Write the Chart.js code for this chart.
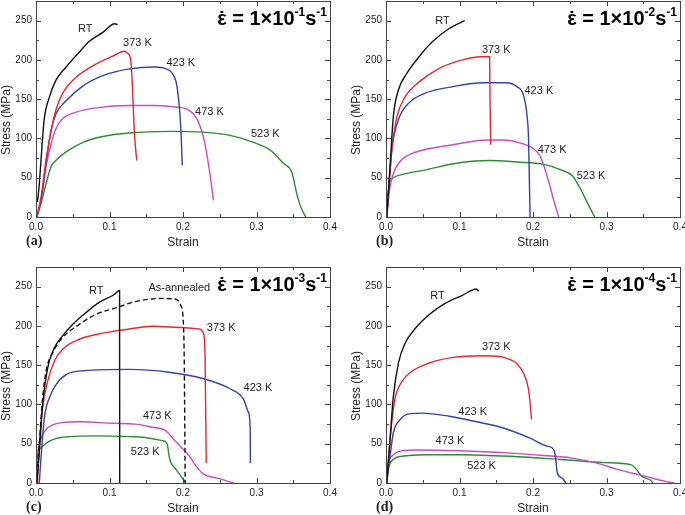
<!DOCTYPE html>
<html lang="en">
<head>
    <meta charset="UTF-8">
    <title>Stress-strain curves</title>
    <script src="https://cdn.jsdelivr.net/npm/chart.js"></script>
    <style>
        body { margin: 0; background: #fff; }
        #wrap { position: relative; width: 685px; height: 515px; }
        .panel { position: absolute; }
    </style>
</head>
<body>
    <div id="wrap">
        <div class="panel" style="left:0;top:0;width:342px;height:257px"><canvas id="pa"></canvas></div>
        <div class="panel" style="left:350px;top:0;width:335px;height:257px"><canvas id="pb"></canvas></div>
        <div class="panel" style="left:0;top:266px;width:342px;height:249px"><canvas id="pc"></canvas></div>
        <div class="panel" style="left:350px;top:266px;width:335px;height:249px"><canvas id="pd"></canvas></div>
    </div>

    <script>
        // axis ticks
        const xTickValues = [0, 0.1, 0.2, 0.3, 0.4];
        const xTickLabels = ['0.0', '0.1', '0.2', '0.3', '0.4'];
        const yTickValues = [0, 50, 100, 150, 200, 250];
        const yTickLabels = ['0', '50', '100', '150', '200', '250'];

        // (a) 1e-1 s-1
        const a_RT_x = [0.002, 0.0045, 0.0068, 0.011, 0.018, 0.027, 0.041, 0.059, 0.073, 0.091, 0.107, 0.111];
        const a_RT_y = [19, 42, 72, 123, 152, 174, 191, 210, 224, 235, 246, 245];
        const a_373_x = [0.001, 0.0068, 0.0136, 0.0205, 0.027, 0.036, 0.0545, 0.082, 0.105, 0.1205, 0.125, 0.129, 0.131, 0.134, 0.137];
        const a_373_y = [0, 25, 72, 110, 136, 157, 178, 195, 205, 211, 208, 199, 169, 106, 72];
        const a_423_x = [0.001, 0.0068, 0.0136, 0.0205, 0.027, 0.041, 0.064, 0.091, 0.127, 0.162, 0.176, 0.186, 0.192, 0.197, 0.199];
        const a_423_y = [0, 21, 68, 110, 131, 148, 167, 180, 188.6, 191, 189, 182, 165, 114, 66];
        const a_473_x = [0.001, 0.0068, 0.0136, 0.0205, 0.027, 0.036, 0.0545, 0.082, 0.127, 0.162, 0.19, 0.208, 0.22, 0.229, 0.236, 0.2415];
        const a_473_y = [0, 21, 64, 93, 112, 125, 133.5, 139, 142, 142, 140, 136, 123, 97, 59, 21];
        const a_523_x = [0.001, 0.0068, 0.0136, 0.0205, 0.027, 0.041, 0.064, 0.091, 0.127, 0.181, 0.227, 0.264, 0.296, 0.319, 0.337, 0.348, 0.356, 0.361, 0.367];
        const a_523_y = [0, 17, 42, 64, 72, 83, 95, 102.5, 107, 109, 108, 104, 95, 85, 68, 57, 25, 11, 0];
        const a_labels = ['RT', '373 K', '423 K', '473 K', '523 K'];
        const a_labelX = [0.067, 0.138, 0.197, 0.236, 0.312];
        const a_labelY = [239, 221, 196, 134, 106];

        // (b) 1e-2 s-1
        const b_RT_x = [0.001, 0.0055, 0.010, 0.017, 0.0285, 0.045, 0.063, 0.086, 0.107];
        const b_RT_y = [0, 64, 128, 162, 183, 204, 223, 240, 250];
        const b_373_x = [0.001, 0.008, 0.015, 0.026, 0.045, 0.072, 0.104, 0.130, 0.141, 0.1415, 0.1425];
        const b_373_y = [0, 86, 128, 153, 172, 189, 200, 204, 204, 150, 92];
        const b_423_x = [0.001, 0.008, 0.017, 0.031, 0.054, 0.091, 0.132, 0.164, 0.178, 0.187, 0.192, 0.194, 0.196];
        const b_423_y = [0, 86, 124, 145, 158, 166, 171, 171, 166, 155, 128, 98, 0];
        const b_473_x = [0.001, 0.0055, 0.012, 0.0215, 0.031, 0.054, 0.091, 0.137, 0.160, 0.183, 0.199, 0.210, 0.222, 0.228, 0.235];
        const b_473_y = [0, 39, 60, 73, 79, 86, 92, 98, 98, 94, 88, 77, 43, 22, 0];
        const b_523_x = [0.001, 0.004, 0.010, 0.0215, 0.054, 0.1, 0.141, 0.178, 0.215, 0.238, 0.254, 0.265, 0.274, 0.284];
        const b_523_y = [0, 39, 50, 54, 60, 69, 72, 70, 67, 60, 52, 35, 18, 0];
        const b_labels = ['RT', '373 K', '423 K', '473 K', '523 K'];
        const b_labelX = [0.077, 0.150, 0.208, 0.226, 0.279];
        const b_labelY = [250, 213, 161, 85, 52];

        // (c) 1e-3 s-1
        const c_RT_x = [0.001, 0.0045, 0.009, 0.016, 0.025, 0.036, 0.05, 0.068, 0.086, 0.105, 0.1137, 0.1139];
        const c_RT_y = [0, 40, 100, 147, 172, 187, 202, 217, 230, 239, 245, 0];
        const c_ann_x = [0.001, 0.0045, 0.009, 0.0136, 0.0227, 0.036, 0.059, 0.082, 0.109, 0.135, 0.172, 0.19, 0.197, 0.2, 0.2016, 0.203];
        const c_ann_y = [0, 49, 108, 142, 166, 185, 202, 215, 223, 231, 235, 234, 226, 211, 162, 0];
        const c_373_x = [0.002, 0.0045, 0.009, 0.016, 0.025, 0.036, 0.059, 0.082, 0.105, 0.127, 0.158, 0.199, 0.222, 0.228, 0.230, 0.2316];
        const c_373_y = [0, 49, 96, 130, 155, 170, 183, 189, 193, 196, 199.5, 198, 196, 190, 162, 25];
        const c_423_x = [0.0045, 0.0068, 0.0114, 0.018, 0.027, 0.041, 0.064, 0.127, 0.181, 0.227, 0.264, 0.282, 0.289, 0.2914, 0.2917];
        const c_423_y = [0, 32, 83, 108, 125, 138, 143, 144.6, 141, 133, 120, 107, 90, 69, 25];
        const c_473_x = [0.001, 0.002, 0.0068, 0.0136, 0.0227, 0.036, 0.059, 0.105, 0.135, 0.158, 0.176, 0.185, 0.195, 0.208, 0.2175, 0.227, 0.25, 0.2685];
        const c_473_y = [0, 32, 57, 68, 74, 77, 78, 76, 75, 71, 67, 58, 48, 35, 22, 12, 5.5, 0];
        const c_523_x = [0.001, 0.002, 0.0068, 0.016, 0.027, 0.045, 0.082, 0.127, 0.1486, 0.1716, 0.1785, 0.181, 0.183, 0.19, 0.2016, 0.204];
        const c_523_y = [0, 32, 45, 52, 56.5, 59, 60, 59, 58, 54, 50, 35, 27, 18, 3, 0];
        const c_labels = ['RT', 'As-annealed', '373 K', '423 K', '473 K', '523 K'];
        const c_labelX = [0.082, 0.195, 0.252, 0.302, 0.165, 0.1486];
        const c_labelY = [245, 248, 197, 121, 85, 40];

        // (d) 1e-4 s-1
        const d_RT_x = [0.001, 0.0055, 0.010, 0.017, 0.026, 0.040, 0.058, 0.081, 0.104, 0.123, 0.126];
        const d_RT_y = [0, 55, 110, 153, 178, 197, 214, 229, 239, 247, 244];
        const d_373_x = [0.001, 0.0055, 0.012, 0.0216, 0.035, 0.058, 0.091, 0.132, 0.155, 0.169, 0.178, 0.187, 0.194, 0.196, 0.198];
        const d_373_y = [0, 55, 106, 129, 142, 152.5, 160, 162, 161, 157, 152, 140, 119, 102, 81];
        const d_423_x = [0.001, 0.0055, 0.010, 0.019, 0.031, 0.049, 0.086, 0.123, 0.16, 0.196, 0.219, 0.2285, 0.231, 0.233, 0.24, 0.2446];
        const d_423_y = [0, 34, 64, 80.5, 88, 89, 85, 78, 70, 57, 47, 42, 30, 13, 6, 0];
        const d_473_x = [0.001, 0.003, 0.008, 0.017, 0.04, 0.1, 0.169, 0.215, 0.2515, 0.288, 0.316, 0.353, 0.38, 0.392];
        const d_473_y = [0, 25, 34, 40, 42, 41, 38, 35, 32, 25, 17, 8.5, 2, 0];
        const d_523_x = [0.001, 0.003, 0.010, 0.0216, 0.054, 0.1, 0.169, 0.238, 0.2975, 0.334, 0.341, 0.348, 0.36, 0.363];
        const d_523_y = [0, 17, 30, 34, 36, 36, 34, 30, 26, 23, 17, 8.5, 3.4, 0];
        const d_labels = ['RT', '373 K', '423 K', '473 K', '523 K'];
        const d_labelX = [0.070, 0.150, 0.118, 0.087, 0.130];
        const d_labelY = [238, 173, 91, 54, 22];

        const COLORS = {
            RT: '#111111',
            K373: '#e8262e',
            K423: '#3341b3',
            K473: '#c94bc2',
            K523: '#2e8b32'
        };

        function pts(xs, ys) {
            return xs.map((x, i) => ({ x: x, y: ys[i] }));
        }

        function ds(xs, ys, color, dash) {
            return {
                data: pts(xs, ys),
                borderColor: color,
                borderWidth: 1.4,
                borderDash: dash || [],
                pointRadius: 0,
                cubicInterpolationMode: 'monotone',
                fill: false
            };
        }

        // draws frame, inward ticks, tick labels, titles and text annotations
        const framePlugin = {
            id: 'frame',
            afterDraw(chart) {
                const c = chart.ctx;
                const ca = chart.chartArea;
                const xs = chart.scales.x, ys = chart.scales.y;
                const o = chart.options.plugins.frame;
                c.save();

                c.strokeStyle = '#444';
                c.lineWidth = 1;
                c.strokeRect(ca.left + 0.5, ca.top + 0.5, ca.right - ca.left, ca.bottom - ca.top);

                c.beginPath();
                for (let v = 0; v <= 0.4001; v += 0.05) {
                    const px = Math.round(xs.getPixelForValue(v)) + 0.5;
                    const len = (Math.round(v * 100) % 10 === 0) ? 5 : 3;
                    c.moveTo(px, ca.bottom); c.lineTo(px, ca.bottom - len);
                    c.moveTo(px, ca.top); c.lineTo(px, ca.top + len);
                }
                for (let v = 0; v <= 275; v += 25) {
                    const py = Math.round(ys.getPixelForValue(v)) + 0.5;
                    const len = (v % 50 === 0) ? 5 : 3;
                    c.moveTo(ca.left, py); c.lineTo(ca.left + len, py);
                    c.moveTo(ca.right, py); c.lineTo(ca.right - len, py);
                }
                c.stroke();

                c.fillStyle = '#222';
                c.font = '10px "Liberation Sans", Arial, sans-serif';
                c.textAlign = 'center';
                c.textBaseline = 'top';
                xTickValues.forEach((v, i) => c.fillText(xTickLabels[i], xs.getPixelForValue(v), ca.bottom + 5));
                c.textAlign = 'right';
                c.textBaseline = 'middle';
                yTickValues.forEach((v, i) => c.fillText(yTickLabels[i], ca.left - 4, ys.getPixelForValue(v)));

                c.font = '12px "Liberation Sans", Arial, sans-serif';
                c.textAlign = 'center';
                c.textBaseline = 'middle';
                c.fillText('Strain', (ca.left + ca.right) / 2, ca.bottom + 26);
                c.save();
                c.translate(7, (ca.top + ca.bottom) / 2 + 11);
                c.rotate(-Math.PI / 2);
                c.fillText('Stress (MPa)', 0, 0);
                c.restore();

                c.font = 'bold 14px "Liberation Serif", "Times New Roman", serif';
                c.textAlign = 'left';
                c.fillText(o.tag, 26, ca.bottom + 24);

                // curve labels
                c.font = '11px "Liberation Sans", Arial, sans-serif';
                c.textAlign = 'center';
                c.fillStyle = '#222';
                o.labels.forEach((t, i) => {
                    c.fillText(t, xs.getPixelForValue(o.labelX[i]), ys.getPixelForValue(o.labelY[i]));
                });

                // strain rate title: epsilon-dot = 1x10^n s^-1
                const big = 'bold 20px "Liberation Sans", Arial, sans-serif';
                const small = 'bold 12px "Liberation Sans", Arial, sans-serif';
                const parts = [
                    ['\u03B5', big, 0],
                    [' = ', big, 0],
                    ['1\u00D710', big, 0],
                    [o.exp, small, 9],
                    ['s', big, 0],
                    ['-1', small, 9]
                ];
                let total = 0;
                parts.forEach(p => { c.font = p[1]; total += c.measureText(p[0]).width; });
                let x = ca.right - 3 - total;
                const base = ca.top + 24;
                c.textAlign = 'left';
                c.textBaseline = 'alphabetic';
                c.fillStyle = '#000';
                parts.forEach((p, i) => {
                    c.font = p[1];
                    const w = c.measureText(p[0]).width;
                    c.fillText(p[0], x, base - p[2]);
                    if (i === 0) {
                        c.textAlign = 'center';
                        c.fillText('\u02D9', x + w / 2, base + 1);
                        c.textAlign = 'left';
                    }
                    x += w;
                });

                c.restore();
            }
        };

        function makePanel(id, w, h, datasets, tag, exp, labels, labelX, labelY) {
            const canvas = document.getElementById(id);
            return new Chart(canvas.getContext('2d'), {
                type: 'line',
                data: { datasets: datasets },
                options: {
                    responsive: true,
                    maintainAspectRatio: false,
                    animation: false,
                    layout: { padding: { left: 36, top: 1, right: w - 330, bottom: h - 217 } },
                    scales: {
                        x: { type: 'linear', min: 0, max: 0.4, display: false },
                        y: { type: 'linear', min: 0, max: 275, display: false }
                    },
                    plugins: {
                        legend: { display: false },
                        tooltip: { enabled: false },
                        frame: { tag: tag, exp: exp, labels: labels, labelX: labelX, labelY: labelY }
                    }
                },
                plugins: [framePlugin]
            });
        }

        makePanel('pa', 342, 257, [
            ds(a_RT_x, a_RT_y, COLORS.RT),
            ds(a_373_x, a_373_y, COLORS.K373),
            ds(a_423_x, a_423_y, COLORS.K423),
            ds(a_473_x, a_473_y, COLORS.K473),
            ds(a_523_x, a_523_y, COLORS.K523)
        ], '(a)', '-1', a_labels, a_labelX, a_labelY);

        makePanel('pb', 335, 257, [
            ds(b_RT_x, b_RT_y, COLORS.RT),
            ds(b_373_x, b_373_y, COLORS.K373),
            ds(b_423_x, b_423_y, COLORS.K423),
            ds(b_473_x, b_473_y, COLORS.K473),
            ds(b_523_x, b_523_y, COLORS.K523)
        ], '(b)', '-2', b_labels, b_labelX, b_labelY);

        makePanel('pc', 342, 249, [
            ds(c_RT_x, c_RT_y, COLORS.RT),
            ds(c_ann_x, c_ann_y, COLORS.RT, [5, 3]),
            ds(c_373_x, c_373_y, COLORS.K373),
            ds(c_423_x, c_423_y, COLORS.K423),
            ds(c_473_x, c_473_y, COLORS.K473),
            ds(c_523_x, c_523_y, COLORS.K523)
        ], '(c)', '-3', c_labels, c_labelX, c_labelY);

        makePanel('pd', 335, 249, [
            ds(d_RT_x, d_RT_y, COLORS.RT),
            ds(d_373_x, d_373_y, COLORS.K373),
            ds(d_423_x, d_423_y, COLORS.K423),
            ds(d_473_x, d_473_y, COLORS.K473),
            ds(d_523_x, d_523_y, COLORS.K523)
        ], '(d)', '-4', d_labels, d_labelX, d_labelY);
    </script>
</body>
</html>
